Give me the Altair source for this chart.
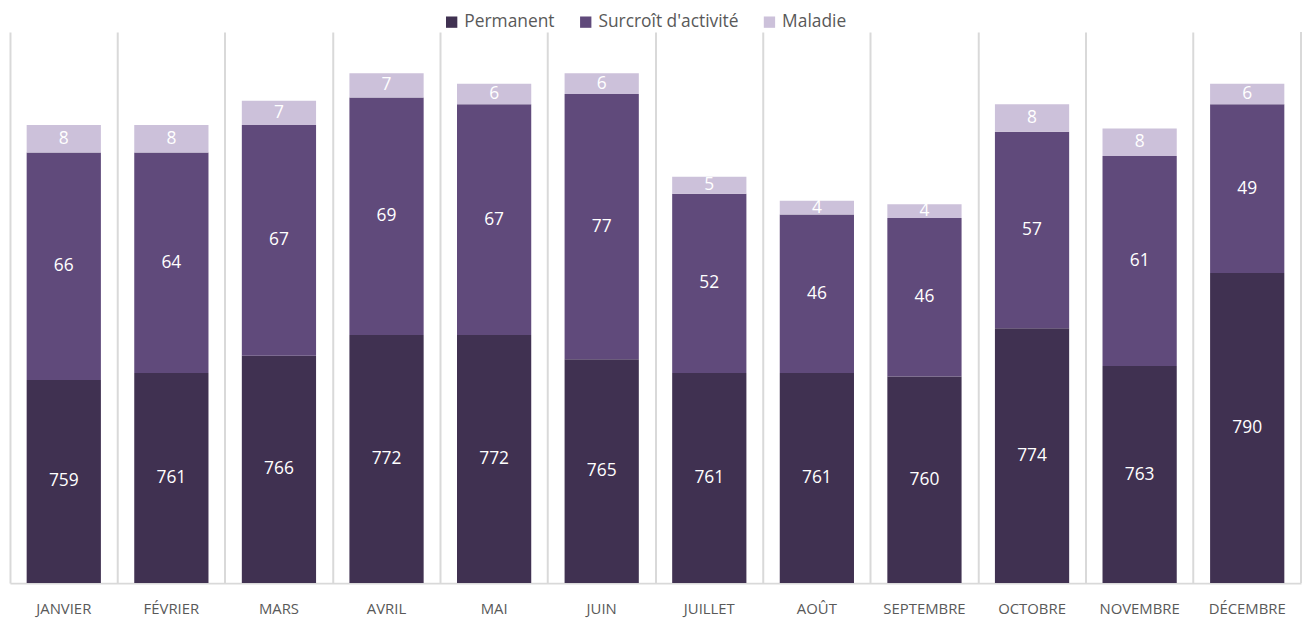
import altair as alt
import pandas as pd

months = ["JANVIER", "FÉVRIER", "MARS", "AVRIL", "MAI", "JUIN", "JUILLET",
          "AOÛT", "SEPTEMBRE", "OCTOBRE", "NOVEMBRE", "DÉCEMBRE"]
series = ["Permanent", "Surcroît d'activité", "Maladie"]
permanent = [759, 761, 766, 772, 772, 765, 761, 761, 760, 774, 763, 790]
surcroit = [66, 64, 67, 69, 67, 77, 52, 46, 46, 57, 61, 49]
maladie = [8, 8, 7, 7, 6, 6, 5, 4, 4, 8, 8, 6]
colors = ["#403151", "#604a7b", "#ccc1da"]

rows = []
for i, m in enumerate(months):
    for k, (s, vals) in enumerate(zip(series, [permanent, surcroit, maladie])):
        rows.append({"month": m, "series": s, "order": k, "value": vals[i]})
df = pd.DataFrame(rows)

BASE = 700
base = (
    alt.Chart(df)
    .transform_stack(stack="value", as_=["y0", "y1"], groupby=["month"],
                     sort=[alt.SortField("order", "ascending")])
    .transform_calculate(y0c=f"max(datum.y0, {BASE})",
                         mid=f"(max(datum.y0, {BASE}) + datum.y1) / 2")
)

xenc = alt.X("month:N", sort=months, title=None,
             scale=alt.Scale(paddingInner=0, paddingOuter=0),
             axis=alt.Axis(labelAngle=0, ticks=False, grid=True, bandPosition=0,
                           gridColor="#d9d9d9", gridWidth=2,
                           domainColor="#d9d9d9", domainWidth=2,
                           labelFont="Open Sans", labelFontSize=15,
                           labelColor="#595959", labelPadding=19))
yscale = alt.Scale(domain=[BASE, 860], zero=False, nice=False)

bars = base.mark_bar(width=alt.RelativeBandSize(0.69), clip=True).encode(
    x=xenc,
    y=alt.Y("y0c:Q", scale=yscale, axis=None),
    y2="y1:Q",
    color=alt.Color("series:N", sort=series,
                    scale=alt.Scale(domain=series, range=colors),
                    legend=alt.Legend(title=None, orient="none", direction="horizontal",
                                      legendX=436, legendY=-19,
                                      symbolType="square", symbolSize=130,
                                      symbolStrokeWidth=0, columnPadding=22,
                                      labelFont="Open Sans", labelFontSize=17.5,
                                      labelColor="#595959")),
    order=alt.Order("order:Q"),
)

labels = base.mark_text(color="white", font="Open Sans", fontSize=17.5).encode(
    x=alt.X("month:N", sort=months),
    y=alt.Y("mid:Q", scale=yscale),
    text=alt.Text("value:Q"),
)

edge = alt.Chart(df).mark_rule(color="#d9d9d9", strokeWidth=2).encode(
    x=alt.value(1300), y=alt.value(0), y2=alt.value(555)
)

chart = (
    alt.layer(bars, labels, edge)
    .properties(width=1300, height=555,
                padding={"left": 2, "top": 3, "right": 0, "bottom": 0})
    .configure_view(stroke=None)
)

chart.save("out.html", embed_options={"renderer": "svg", "actions": False})
